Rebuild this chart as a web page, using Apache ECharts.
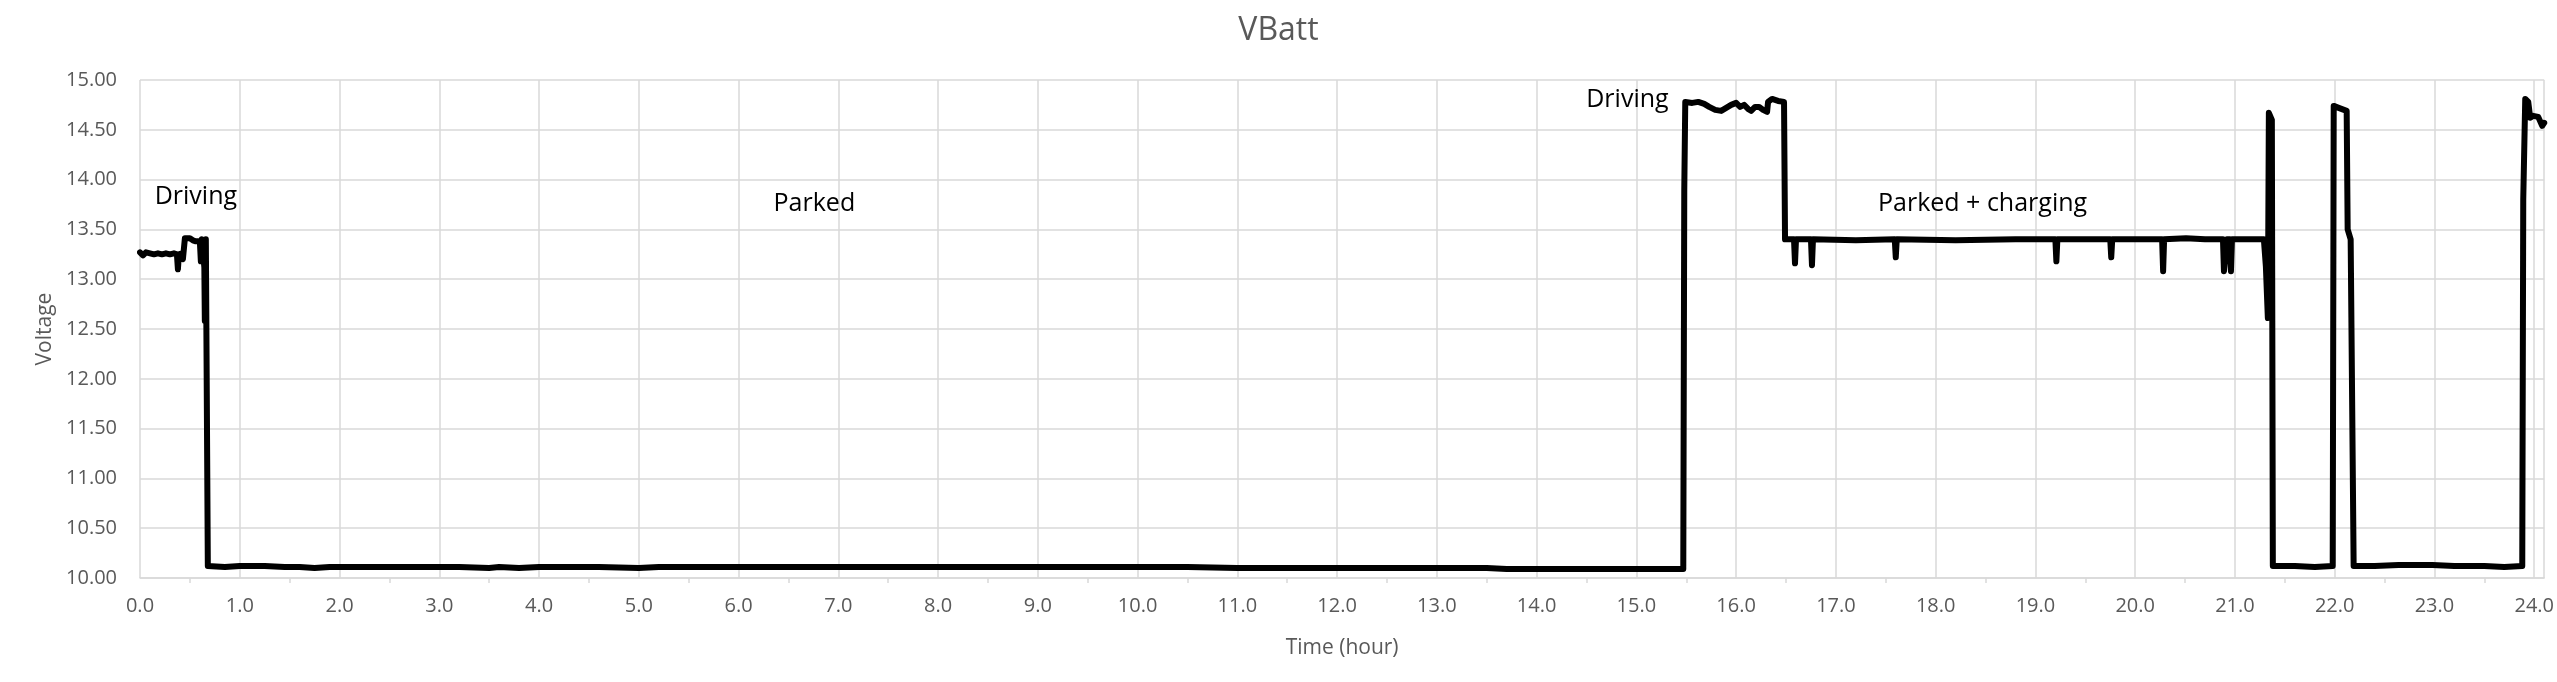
<!DOCTYPE html>
<html>
<head>
<meta charset="utf-8">
<script src="https://cdn.jsdelivr.net/npm/echarts@6/dist/echarts.min.js"></script>
<style>
html,body{margin:0;padding:0;background:#fff;}
#chart{width:2557px;height:682px;}
</style>
</head>
<body>
<div id="chart"></div>
<script>
// ---- data: [hour, voltage] pairs ----
var driveMorning = [
  [0.00,13.27],[0.03,13.24],[0.06,13.27],[0.10,13.26],[0.14,13.25],[0.18,13.26],
  [0.22,13.25],[0.26,13.26],[0.30,13.25],[0.34,13.26],[0.37,13.25],[0.38,13.10],
  [0.39,13.25],[0.42,13.26],[0.43,13.20],[0.44,13.22],[0.45,13.41],[0.50,13.41],
  [0.53,13.39],[0.56,13.38],[0.58,13.39],[0.60,13.38],[0.61,13.18],[0.62,13.40],
  [0.64,13.41],[0.645,13.12],[0.65,12.58],[0.66,13.40],[0.67,13.41]
];
var parkedDay = [
  [0.68,10.12],[0.85,10.11],[1.00,10.12],[1.25,10.12],[1.45,10.11],[1.60,10.11],
  [1.75,10.10],[1.90,10.11],[2.10,10.11],[2.30,10.11],[2.50,10.11],[2.80,10.11],
  [3.00,10.11],[3.20,10.11],[3.50,10.10],[3.60,10.11],[3.80,10.10],[4.00,10.11],
  [4.30,10.11],[4.60,10.11],[5.00,10.10],[5.20,10.11],[5.50,10.11],[6.00,10.11],
  [6.50,10.11],[7.00,10.11],[7.30,10.11],[7.50,10.11],[8.00,10.11],[8.50,10.11],
  [9.00,10.11],[9.50,10.11],[10.00,10.11],[10.50,10.11],[11.00,10.10],[11.50,10.10],
  [12.00,10.10],[12.50,10.10],[13.00,10.10],[13.50,10.10],[13.70,10.09],[14.00,10.09],
  [14.50,10.09],[15.00,10.09],[15.47,10.09]
];
var driveAfternoon = [
  [15.48,13.90],[15.49,14.78],[15.50,14.79],[15.56,14.77],[15.62,14.78],[15.68,14.76],
  [15.73,14.73],[15.79,14.70],[15.85,14.69],[15.90,14.72],[15.95,14.75],[16.00,14.77],
  [16.04,14.73],[16.08,14.75],[16.12,14.71],[16.15,14.69],[16.19,14.73],[16.23,14.73],
  [16.27,14.70],[16.31,14.68],[16.32,14.78],[16.36,14.81],[16.42,14.79],[16.48,14.78]
];
var chargingEvening = [
  [16.49,13.40],[16.58,13.40],[16.59,13.16],[16.60,13.40],[16.75,13.40],[16.76,13.14],
  [16.77,13.40],[17.20,13.39],[17.59,13.40],[17.60,13.22],[17.61,13.40],[18.20,13.39],
  [18.80,13.40],[19.20,13.40],[19.21,13.18],[19.22,13.40],[19.75,13.40],[19.76,13.22],
  [19.77,13.40],[20.27,13.40],[20.28,13.08],[20.29,13.40],[20.51,13.41],[20.70,13.40],
  [20.88,13.40],[20.89,13.08],[20.92,13.40],[20.95,13.40],[20.96,13.08],[20.97,13.40],
  [21.29,13.40],[21.31,13.13],[21.33,12.61],[21.34,14.67],[21.37,14.60]
];
var parkedNight = [
  [21.38,10.12],[21.60,10.12],[21.80,10.11],[21.98,10.12],
  [21.99,14.74],[22.04,14.72],[22.12,14.69],[22.13,13.50],[22.16,13.40],
  [22.19,10.12],[22.40,10.12],[22.64,10.13],[22.80,10.13],[22.98,10.13],
  [23.20,10.12],[23.50,10.12],[23.70,10.11],[23.88,10.12]
];
var driveLate = [
  [23.89,13.80],[23.91,14.81],[23.94,14.78],[23.96,14.62],[23.99,14.64],
  [24.04,14.63],[24.08,14.54],[24.10,14.57]
];
var annotations = [
  [0.56,13.83,'Driving'],
  [6.76,13.76,'Parked'],
  [14.91,14.80,'Driving'],
  [18.47,13.76,'Parked + charging']
];
var xRange = [0, 24.1];
var yRange = [10, 15];

var series = [].concat(driveMorning, parkedDay, driveAfternoon, chargingEvening, parkedNight, driveLate);

var FONT = '"Open Sans", "Noto Sans", sans-serif';
var chart = echarts.init(document.getElementById('chart'), null, {renderer:'canvas'});
chart.setOption({
  animation: false,
  backgroundColor: '#ffffff',
  title: {
    text: 'VBatt', left: 'center', top: 10,
    textStyle: {color:'#595959', fontSize: 32, fontWeight:'normal', fontFamily: FONT}
  },
  grid: {left: 140, right: 5, top: 80, bottom: 104, containLabel: false},
  xAxis: {
    type: 'value', min: xRange[0], max: xRange[1], interval: 1,
    name: 'Time (hour)', nameLocation: 'middle', nameGap: 60,
    nameTextStyle: {color:'#595959', fontSize: 21, fontFamily: FONT},
    axisLine: {show: true, lineStyle: {color:'#d9d9d9', width: 1.5}},
    axisTick: {show: false},
    minorTick: {show: true, splitNumber: 2, length: 5, lineStyle: {color:'#d9d9d9', width: 1.5}},
    splitLine: {show: true, lineStyle: {color:'#d9d9d9', width: 1.5}},
    axisLabel: {color:'#595959', fontSize: 20, fontFamily: FONT, margin: 18, showMaxLabel: false,
      formatter: function(v){ return v.toFixed(1); }}
  },
  yAxis: {
    type: 'value', min: yRange[0], max: yRange[1], interval: 0.5,
    name: 'Voltage', nameLocation: 'middle', nameGap: 84,
    nameTextStyle: {color:'#595959', fontSize: 21, fontFamily: FONT},
    axisLine: {show: false}, axisTick: {show: false},
    splitLine: {show: true, lineStyle: {color:'#d9d9d9', width: 1.5}},
    axisLabel: {color:'#595959', fontSize: 20, fontFamily: FONT, margin: 23,
      formatter: function(v){ return v.toFixed(2); }}
  },
  series: [{
    type: 'line', data: series, showSymbol: false, symbol: 'none',
    lineStyle: {color:'#000000', width: 6, join: 'round', cap: 'round'},
    clip: true,
    markPoint: {
      symbol: 'circle', symbolSize: 0, silent: true,
      label: {show: true, position: 'inside', color:'#000000', fontSize: 25, fontFamily: FONT,
        formatter: function(p){ return p.name; }},
      data: annotations.map(function(a){ return {name: a[2], coord: [a[0], a[1]]}; })
    }
  }]
});
</script>
</body>
</html>
